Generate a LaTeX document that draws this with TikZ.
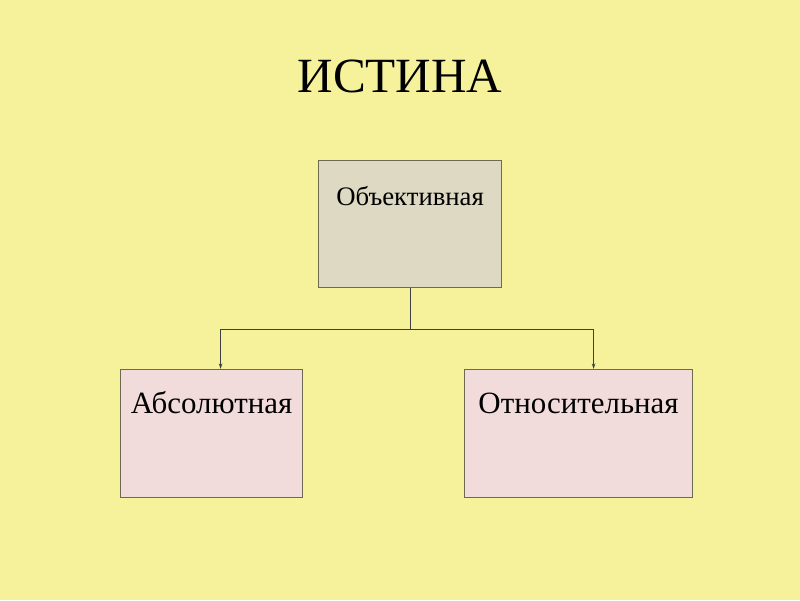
\documentclass[tikz,border=0pt]{standalone}
\usepackage{fontspec}
\setmainfont{Liberation Serif}
\usetikzlibrary{arrows.meta,calc}
\definecolor{slide}{HTML}{F6F29C}
\definecolor{topfill}{HTML}{DDD9C3}
\definecolor{lowfill}{HTML}{F2DCDB}
\definecolor{edge}{HTML}{6E6A50}

\begin{document}
\begin{tikzpicture}[x=0.025cm, y=-0.025cm,
			box/.style={
				rectangle,
				draw = edge,
				line width = 0.8pt,
				inner sep = 0pt,
				anchor = north west},
			caption/.style={
				anchor = base,
				inner sep = 0pt,
				font = \fontsize{22}{26}\selectfont},
			link/.style={draw = black!75, line width = 0.6pt},
			tip/.style={-{Stealth[length = 4pt, width = 2.5pt]}}]
			\fill[slide] (0, 0) rectangle (800, 600);
			\useasboundingbox (0, 0) rectangle (800, 600);
			\node (title) [anchor = base, font = \fontsize{35}{40}\selectfont] at (400, 92) {ИСТИНА};
			% boxes
			\node (obj) [box, fill = topfill, minimum width = 4.575cm, minimum height = 3.175cm] at (318, 160) {};
			\node (abs) [box, fill = lowfill, minimum width = 4.55cm, minimum height = 3.2cm] at (120, 369) {};
			\node (rel) [box, fill = lowfill, minimum width = 5.7cm, minimum height = 3.2cm] at (464, 369) {};
			\node (objtext) [caption, font = \fontsize{19}{23}\selectfont] at ($(obj.north) + (0, 45)$) {Объективная};
			\node (abstext) [caption] at ($(abs.north) + (0, 44)$) {Абсолютная};
			\node (reltext) [caption] at ($(rel.north) + (0, 44)$) {Относительная};
			% connectors
			\coordinate (split) at ($(obj.south) + (0, 41)$);
			\draw[link] (obj.south) -- (split);
			\draw[link, tip] (split) -| ($(abs.north) + (9, 0)$);
			\draw[link, tip] (split) -| ($(rel.north) + (15, 0)$);
\end{tikzpicture}
\end{document}
